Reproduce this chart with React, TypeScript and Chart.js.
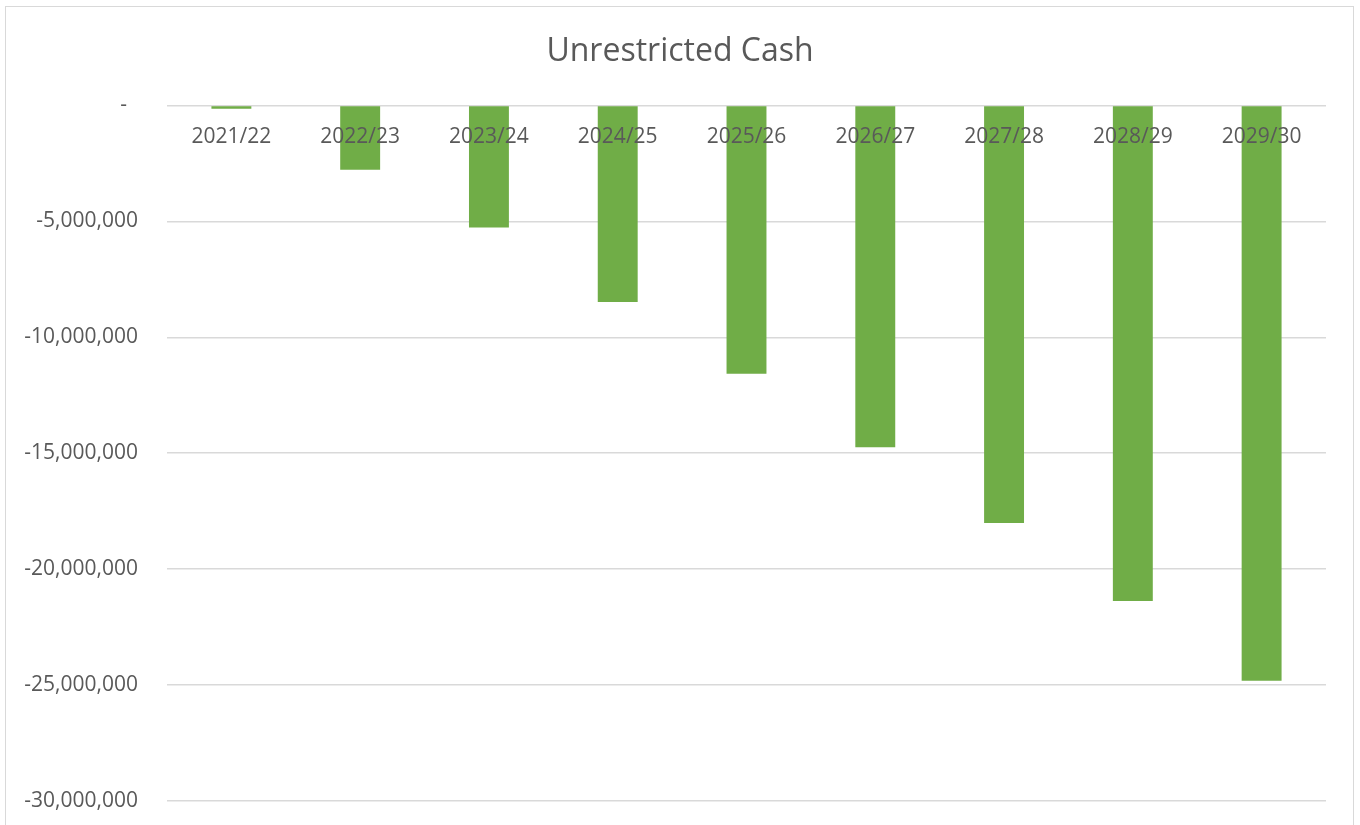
import React, { useEffect, useRef } from "react";
import { Chart, registerables } from "chart.js";

Chart.register(...registerables);

const categories = ["2021/22", "2022/23", "2023/24", "2024/25", "2025/26", "2026/27", "2027/28", "2028/29", "2029/30"];
const cashValues = [-140000, -2770000, -5270000, -8480000, -11570000, -14740000, -18010000, -21370000, -24810000];
const yMin = -30000000;
const yMax = 0;
const yStep = 5000000;
const titleText = "Unrestricted Cash";

const FONT = "'Open Sans', 'Liberation Sans', sans-serif";
const TEXT = "#595959";

export default function App() {
  const ref = useRef<HTMLCanvasElement | null>(null);

  useEffect(() => {
    if (!ref.current) return;
    const chart = new Chart(ref.current, {
      type: "bar",
      data: {
        labels: categories,
        datasets: [
          {
            label: titleText,
            data: cashValues,
            backgroundColor: "#70AD47",
            borderWidth: 0,
            barPercentage: 0.31,
            categoryPercentage: 1,
            yAxisID: "y",
          },
        ],
      },
      options: {
        animation: false,
        responsive: false,
        maintainAspectRatio: false,
        layout: { padding: { top: 10, bottom: 24, right: 0, left: 0 } },
        plugins: {
          legend: { display: false },
          tooltip: { enabled: false },
          title: {
            display: true,
            text: titleText,
            color: TEXT,
            font: { family: FONT, size: 32, weight: "normal" },
            padding: { top: 23, bottom: 34 },
          },
        },
        scales: {
          x: {
            position: { y: 0 } as any,
            grid: { display: false, drawTicks: false },
            border: { display: false },
            ticks: {
              z: 1,
              color: TEXT,
              font: { family: FONT, size: 21 },
              padding: 19,
              maxRotation: 0,
            },
            afterFit: (scale: any) => {
              scale.height = 0;
            },
          },
          y: {
            min: yMin,
            max: yMax,
            grid: { color: "#d9d9d9", lineWidth: 1.5, drawTicks: false },
            border: { display: false },
            ticks: {
              stepSize: yStep,
              color: TEXT,
              font: { family: FONT, size: 21 },
              padding: 29,
              callback: (v: any) => (Number(v) === 0 ? "-  " : Number(v).toLocaleString("en-US")),
            },
            afterFit: (scale: any) => {
              scale.width = 167;
              scale.paddingTop = 0;
              scale.paddingBottom = 0;
            },
          },
          yRight: {
            type: "linear",
            position: "right",
            display: true,
            grid: { display: false, drawTicks: false },
            border: { display: false },
            ticks: { display: false },
            afterFit: (scale: any) => {
              scale.width = 34;
              scale.paddingTop = 0;
              scale.paddingBottom = 0;
            },
          },
        },
      },
    });
    return () => chart.destroy();
  }, []);

  return (
    <div style={{ position: "absolute", left: 0, top: 0, width: 1360, height: 825, background: "#fff", overflow: "hidden" }}>
      <div
        style={{
          position: "absolute",
          left: 5,
          top: 6,
          width: 1349,
          height: 840,
          border: "1.5px solid #d9d9d9",
          boxSizing: "border-box",
        }}
      />
      <canvas ref={ref} width={1360} height={825} style={{ position: "absolute", left: 0, top: 0, width: 1360, height: 825 }} />
    </div>
  );
}
